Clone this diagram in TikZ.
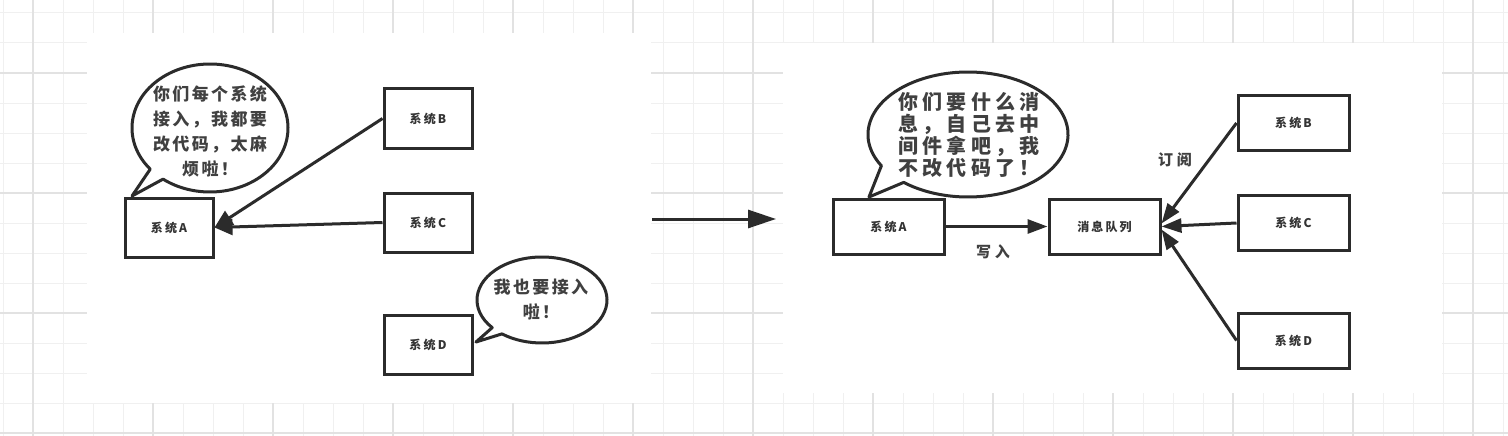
\documentclass[tikz,border=0pt]{standalone}
\usepackage{fontspec}
\newfontfamily\cjk{Noto Sans CJK SC}
\usetikzlibrary{arrows.meta}
\definecolor{ink}{HTML}{2B2B2B}
\definecolor{txt}{HTML}{333333}
\definecolor{txtb}{HTML}{404040}
\definecolor{gminor}{HTML}{F0F0F0}
\definecolor{gmajor}{HTML}{E2E2E2}
\tikzset{
  gridminor/.style={draw=gminor, line width=1pt},
  gridmajor/.style={draw=gmajor, line width=1.2pt},
  panel/.style={fill=white, draw=none},
  sysbox/.style={draw=ink, line width=3pt, fill=white, inner sep=0pt, text=txt,
    font={\cjk\bfseries\fontsize{12}{14}\selectfont\addfontfeature{LetterSpace=18}}},
  smallbox/.style={sysbox, minimum width=88, minimum height=59},
  bigbox/.style={sysbox, minimum width=111, minimum height=55},
  bubble/.style={draw=ink, line width=3pt, fill=white, line join=round},
  bubtext/.style={text=txtb, align=center, inner sep=0pt,
    font={\cjk\bfseries\fontsize{17}{25}\selectfont\addfontfeature{LetterSpace=14}}},
  bubtextb/.style={text=txtb, align=center, inner sep=0pt,
    font={\cjk\bfseries\fontsize{20}{22}\selectfont\addfontfeature{LetterSpace=21}}},
  lbl/.style={text=txtb, inner sep=0pt,
    font={\cjk\bfseries\fontsize{15}{18}\selectfont\addfontfeature{LetterSpace=25}}},
  arrL/.style={draw=ink, line width=3pt, -{Triangle[length=18pt,width=16pt]}},
  arrM/.style={draw=ink, line width=3pt, -{Triangle[length=28pt,width=18pt]}},
  arrR/.style={draw=ink, line width=3pt, -{Triangle[length=20pt,width=14pt]}},
}
\begin{document}
\begin{tikzpicture}[x=1pt,y=-1pt]
\useasboundingbox (0,0) rectangle (1508,436);
\fill[white] (0,0) rectangle (1508,436);
% grid
\foreach \gx in {3,33,...,1503} \draw[gridminor] (\gx,0) -- (\gx,436);
\foreach \gy in {13,43,...,433} \draw[gridminor] (0,\gy) -- (1508,\gy);
\foreach \gx in {33,153,...,1473} \draw[gridmajor] (\gx,0) -- (\gx,436);
\foreach \gy in {73,193,313,433} \draw[gridmajor] (0,\gy) -- (1508,\gy);
% panels
\path[panel] (87,33) rectangle (651,403);
\path[panel] (783,43) rectangle (1442,393);

% ---------- left panel ----------
\draw[bubble] (210,128) ++(140:78 and 64) arc[start angle=140, end angle=487, x radius=78, y radius=64] -- (132,196) -- cycle;
\node[bubtext] (t1) at (210,131) {你们每个系统\\接入，我都要\\改代码，太麻\\烦啦！};
\draw[bubble] (542,300) ++(140:65 and 43) arc[start angle=140, end angle=488, x radius=65, y radius=43] -- (476,342) -- cycle;
\node[bubtext] (t2) at (541,300) {我也要接入\\啦！};

\node[smallbox] (A) at (169,227.5) {系统A};
\node[smallbox] (B) at (428,118.5) {系统B};
\node[smallbox] (C) at (428,222.5) {系统C};
\node[smallbox] (D) at (428,345) {系统D};
\draw[arrL] (B.west) -- (A.east);
\draw[arrL] (C.west) -- (A.east);

% middle arrow
\coordinate (m1) at (652,219);
\coordinate (m2) at (776,219);
\draw[arrM] (m1) -- (m2);

% ---------- right panel ----------
\draw[bubble] (968,134.5) ++(150:100 and 62.5) arc[start angle=150, end angle=490, x radius=100, y radius=62.5] -- (869,197) -- cycle;
\node[bubtextb] (t3) at (969,135) {你们要什么消\\息，自己去中\\间件拿吧，我\\不改代码了！};

\node[bigbox] (A2) at (888.5,226.5) {系统A};
\node[bigbox] (MQ) at (1104.5,226.5) {消息队列};
\node[bigbox] (B2) at (1293.5,123) {系统B};
\node[bigbox] (C2) at (1293.5,223) {系统C};
\node[bigbox] (D2) at (1293.5,340.5) {系统D};

\draw[arrR] (A2.east) -- (MQ.west);
\draw[arrR] (B2.west) -- ([yshift=3pt]MQ.east);
\draw[arrR] (C2.west) -- (MQ.east);
\draw[arrR] (D2.west) -- ([yshift=-3pt]MQ.east);

\node[lbl] (w) at (993,252) {写入};
\node[lbl] (s) at (1175,160) {订阅};
\end{tikzpicture}
\end{document}
